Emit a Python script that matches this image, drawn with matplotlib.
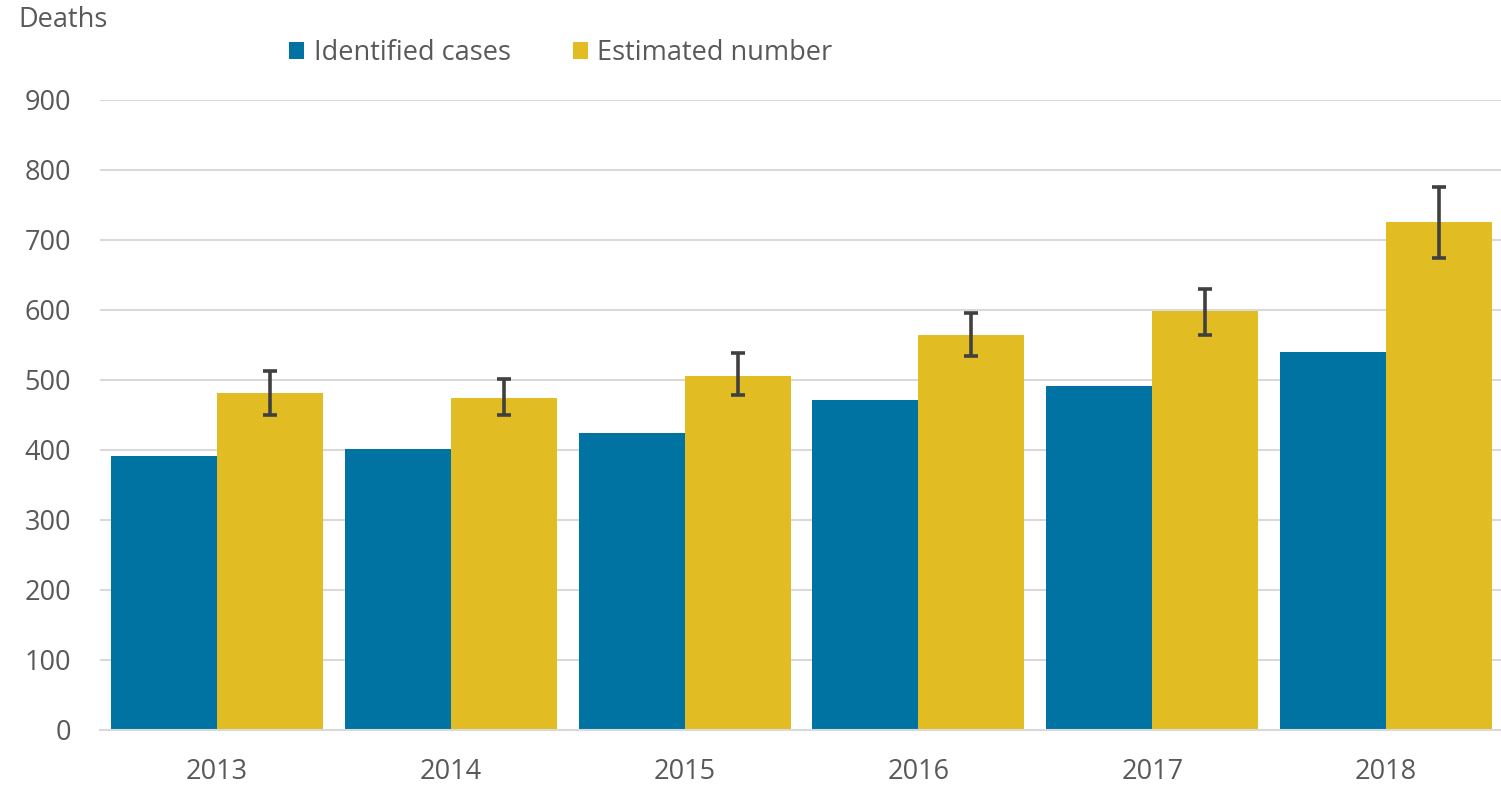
import numpy as np
import matplotlib.pyplot as plt

years = ["2013", "2014", "2015", "2016", "2017", "2018"]
identified = [392, 401, 424, 472, 492, 540]
estimated = [481, 475, 506, 564, 598, 726]
est_low = [450, 450, 478, 535, 564, 675]
est_high = [513, 501, 539, 596, 630, 776]

blue = "#0073A2"
yellow = "#E1BC22"
text_col = "#595959"

plt.rcParams["font.family"] = ["Open Sans", "DejaVu Sans"]

fig = plt.figure(figsize=(15.01, 7.86), dpi=100)
ax = fig.add_axes([100 / 1501, 56 / 786, 1403 / 1501, 630 / 786])

x = np.arange(len(years))
w = 0.453
est = np.array(estimated)
yerr = [est - np.array(est_low), np.array(est_high) - est]

ax.bar(x - w / 2, identified, w, color=blue, label="Identified cases", zorder=2)
ax.bar(x + w / 2, estimated, w, color=yellow, label="Estimated number", zorder=2)
ax.errorbar(x + w / 2, estimated, yerr=yerr, fmt="none", ecolor="#404040",
            elinewidth=2.6, capsize=5, capthick=2.6, zorder=3)

ax.set_xlim(-0.5, len(years) - 0.5)
ax.set_ylim(0, 900)
ax.set_yticks(range(0, 901, 100))
ax.set_xticks(x)
ax.set_xticklabels(years)
ax.yaxis.grid(True, color="#D9D9D9", linewidth=1.5, zorder=0)
ax.set_axisbelow(True)
for s in ["top", "right", "left"]:
    ax.spines[s].set_visible(False)
ax.spines["bottom"].set_color("#D9D9D9")
ax.spines["bottom"].set_linewidth(1.5)
ax.tick_params(length=0, labelsize=19.5, colors=text_col)
ax.tick_params(axis="y", pad=21)
ax.tick_params(axis="x", pad=20)

fig.text(18 / 1501, 1 - 20 / 786, "Deaths", fontsize=19.5, color=text_col,
         va="center", ha="left")

leg = fig.legend(loc="center", bbox_to_anchor=(561 / 1501, 1 - 53 / 786), ncol=2,
                 frameon=False, fontsize=19.5, handlelength=0.55, handleheight=0.55,
                 handletextpad=0.35, columnspacing=2.3)
for t in leg.get_texts():
    t.set_color(text_col)

fig.savefig("out.png", dpi=100)
